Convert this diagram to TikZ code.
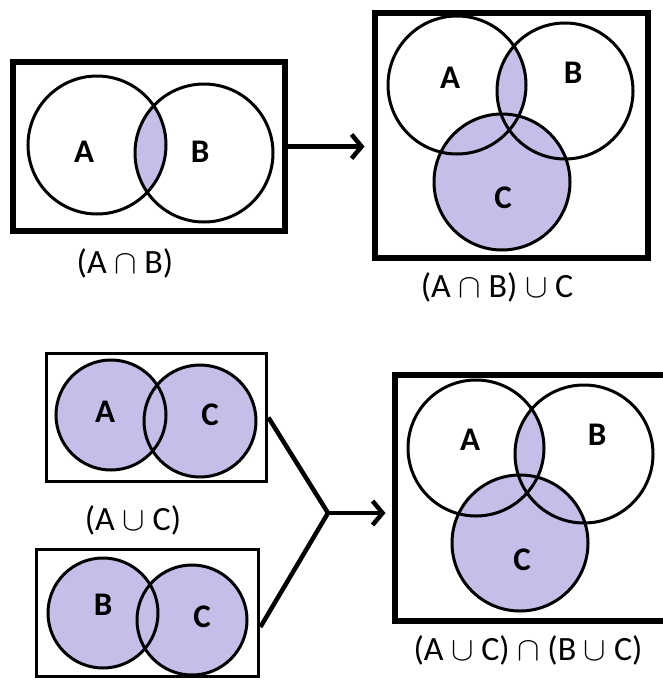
\documentclass[tikz,border=0pt]{standalone}
\usepackage{fontspec}
\setmainfont{Carlito}
\usepackage{graphicx}
\usetikzlibrary{arrows.meta,calc}
\definecolor{setfill}{HTML}{C6BEE8}
\newcommand{\capop}{\scalebox{1.35}{$\cap$}}
\newcommand{\cupop}{\scalebox{1.35}{$\cup$}}

\begin{document}
\begin{tikzpicture}[x=1pt,y=-1pt,
  frame/.style={draw, line width=6pt, inner sep=0pt},
  thinframe/.style={draw, line width=3.8pt, inner sep=0pt},
  ring/.style={line width=3pt},
  setlab/.style={font=\fontsize{33}{33}\selectfont\bfseries},
  expr/.style={font=\fontsize{34}{34}\selectfont},
  link/.style={line width=4.5pt, line join=miter},
  arr/.style={line width=4.5pt, -{Straight Barb[length=10pt,width=24pt]}}]
\useasboundingbox (0,0) rectangle (662,680);
% ---------------- panel 1: A cap B ----------------
\node[frame, minimum width=272pt, minimum height=169pt] (box1) at (148.75,146.5) {};
\begin{scope}
\clip (97,145) circle[radius=69];
\fill[setfill] (204,153) circle[radius=69];
\end{scope}
\draw[ring] (97,145) circle[radius=69];
\draw[ring] (204,153) circle[radius=69];
\node[setlab] (a1) at (84,152) {A};
\node[setlab] (b1) at (200,152) {B};
\node[expr] (e1) at (125,263) {(A \capop{} B)};
% ---------------- panel 2: (A cap B) cup C ----------------
\node[frame, minimum width=273pt, minimum height=245pt] (box2) at (511,135) {};
\fill[setfill] (502,182) circle[radius=68];
\begin{scope}
\clip (457,85) circle[radius=69];
\fill[setfill] (565,91) circle[radius=68];
\end{scope}
\draw[ring] (457,85) circle[radius=69];
\draw[ring] (565,91) circle[radius=68];
\draw[ring] (502,182) circle[radius=68];
\node[setlab] (a2) at (450,78) {A};
\node[setlab] (b2) at (573,73) {B};
\node[setlab] (c2) at (503,198) {C};
\node[expr] (e2) at (497,287) {(A \capop{} B) \cupop{} C};
\draw[arr, shorten >=7pt] (box1.east) -- (box1.east -| box2.west);
% ---------------- panel 3: A cup C ----------------
\node[thinframe, minimum width=220pt, minimum height=128pt] (box3) at (156.5,417.5) {};
\fill[setfill] (111,415) circle[radius=55];
\fill[setfill] (200,421) circle[radius=56];
\draw[ring] (111,415) circle[radius=55];
\draw[ring] (200,421) circle[radius=56];
\node[setlab] (a3) at (105,412) {A};
\node[setlab] (c3) at (210,415) {C};
\node[expr] (e3) at (133,520) {(A \cupop{} C)};
% ---------------- panel 4: B cup C ----------------
\node[thinframe, minimum width=222pt, minimum height=127pt] (box4) at (147.5,613) {};
\fill[setfill] (103,613) circle[radius=55];
\fill[setfill] (192,620) circle[radius=55];
\draw[ring] (103,613) circle[radius=55];
\draw[ring] (192,620) circle[radius=55];
\node[setlab] (b4) at (103,605) {B};
\node[setlab] (c4) at (202,617) {C};
% ---------------- panel 5: (A cup C) cap (B cup C) ----------------
\node[frame, minimum width=285pt, minimum height=246pt] (box5) at (537,497.5) {};
\fill[setfill] (520,543) circle[radius=68];
\begin{scope}
\clip (476,448) circle[radius=68];
\fill[setfill] (584,454) circle[radius=69];
\end{scope}
\draw[ring] (476,448) circle[radius=68];
\draw[ring] (584,454) circle[radius=69];
\draw[ring] (520,543) circle[radius=68];
\node[setlab] (a5) at (470,440) {A};
\node[setlab] (b5) at (597,435) {B};
\node[setlab] (c5) at (522,560) {C};
\node[expr] (e5) at (528,650) {(A \cupop{} C) \capop{} (B \cupop{} C)};
% joining lines
\coordinate (join) at (328,513);
\draw[link] (box3.east) -- (join) -- ($(box4.east)+(0,14)$);
\draw[arr, shorten >=6pt] (join) -- (join -| box5.west);
\end{tikzpicture}
\end{document}
